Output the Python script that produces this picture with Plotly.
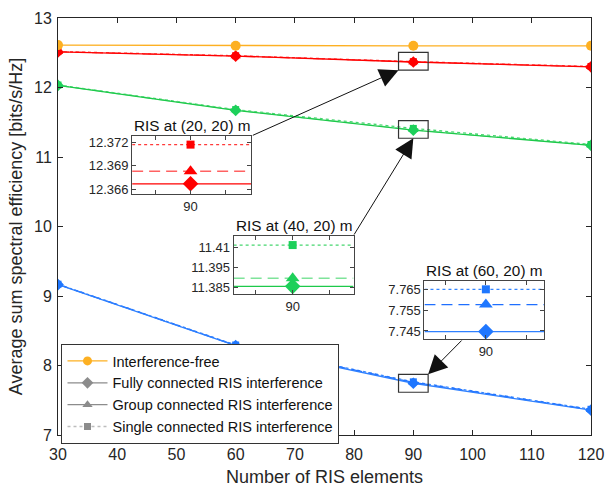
import plotly.graph_objects as go

# ---------------- data ----------------
ris_elements = [30, 60, 90, 120]
interference_free = [12.61, 12.60, 12.60, 12.60]

# RIS at (20, 20) m
fully_20 = [12.512, 12.452, 12.3667, 12.298]
group_20 = [12.514, 12.454, 12.3683, 12.300]
single_20 = [12.517, 12.457, 12.3717, 12.303]
# RIS at (40, 20) m
fully_40 = [12.030, 11.672, 11.3854, 11.168]
group_40 = [12.032, 11.676, 11.3905, 11.172]
single_40 = [12.036, 11.682, 11.4114, 11.180]
# RIS at (60, 20) m
fully_60 = [9.165, 8.285, 7.7447, 7.357]
group_60 = [9.168, 8.290, 7.7577, 7.364]
single_60 = [9.170, 8.295, 7.7650, 7.370]

legend_names = ["Interference-free", "Fully connected RIS interference",
                "Group connected RIS interference", "Single connected RIS interference"]
inset_titles = ["RIS at (20, 20) m", "RIS at (40, 20) m", "RIS at (60, 20) m"]
x_ticks = [30, 40, 50, 60, 70, 80, 90, 100, 110, 120]
y_ticks = [7, 8, 9, 10, 11, 12, 13]
inset_ytickvals = [[12.366, 12.369, 12.372], [11.385, 11.3975, 11.41], [7.745, 7.755, 7.765]]
inset_yticktext = [["12.366", "12.369", "12.372"], ["11.385", "11.395", "11.41"], ["7.745", "7.755", "7.765"]]

# ---------------- styles ----------------
FONT = "Liberation Sans"
TXT = "#262626"
ORANGE = "#FDB022"
groups = [
    (fully_20, group_20, single_20, ["#FF0000", "#FF6262", "#FF3A3A"], "#FF0000"),
    (fully_40, group_40, single_40, ["#1DC94A", "#7FE39A", "#45D66E"], "#1DD05A"),
    (fully_60, group_60, single_60, ["#2F80FF", "#1F6FFF", "#3385FF"], "#1F77FF"),
]
dashes = ["solid", "11px,6px", "3px,3px"]
symbols = ["diamond", "triangle-up", "square"]
msizes = [9, 9, 7]
inset_msizes = [12, 12, 8]

fig = go.Figure()

# main traces
for fully, group, single, lcols, mcol in groups[::-1]:
    for vals, lc, dsh, sym, ms in zip([single, group, fully], lcols[::-1], dashes[::-1], symbols[::-1], msizes[::-1]):
        fig.add_trace(go.Scatter(x=ris_elements, y=vals, mode="lines+markers",
                                 line=dict(color=lc, width=1.3, dash=dsh),
                                 marker=dict(symbol=sym, size=ms, color=mcol),
                                 showlegend=False, xaxis="x", yaxis="y"))
fig.add_trace(go.Scatter(x=ris_elements, y=interference_free, mode="lines+markers",
                         line=dict(color=ORANGE, width=1.3),
                         marker=dict(symbol="circle", size=10, color=ORANGE),
                         showlegend=False))

# legend-only traces
leg_styles = [(ORANGE, "solid", "circle", 9, ORANGE),
              ("#8C8C8C", "solid", "diamond", 9, "#8C8C8C"),
              ("#8C8C8C", "solid", "triangle-up", 9, "#8C8C8C"),
              ("#BDBDBD", "3px,3px", "square", 7, "#8C8C8C")]
for name, (lc, dsh, sym, ms, mc) in zip(legend_names, leg_styles):
    fig.add_trace(go.Scatter(x=[None], y=[None], mode="lines+markers", name=name,
                             line=dict(color=lc, width=1.3, dash=dsh),
                             marker=dict(symbol=sym, size=ms, color=mc)))

# ---------------- insets ----------------
W, H = 606, 487
L, R, T, B = 57.5, 591, 18, 435
def px_x(p): return (p - L) / (R - L)
def px_y(p): return (B - p) / (B - T)

inset_boxes = [(131.7, 250.7, 136, 194), (233.3, 353.3, 236, 294), (424.3, 544, 281, 339.3)]
inset_xr = [[88.33, 91.73], [88.4, 91.65], [88.48, 91.44]]
inset_yr = [[12.3654, 12.3728], [11.3806, 11.4171], [7.741, 7.769]]
idx90 = ris_elements.index(90)

for k, ((fully, group, single, lcols, mcol), box) in enumerate(zip(groups, inset_boxes)):
    xa, ya = f"x{k+2}", f"y{k+2}"
    xr = inset_xr[k]
    for vals, lc, dsh, sym, ms in zip([fully, group, single], lcols, dashes, symbols, inset_msizes):
        v = vals[idx90]
        fig.add_trace(go.Scatter(x=xr, y=[v, v], mode="lines",
                                 line=dict(color=lc, width=1.3, dash=dsh),
                                 showlegend=False, xaxis=xa, yaxis=ya, hoverinfo="skip"))
        fig.add_trace(go.Scatter(x=[ris_elements[idx90]], y=[v], mode="markers",
                                 marker=dict(symbol=sym, size=ms, color=mcol),
                                 showlegend=False, xaxis=xa, yaxis=ya, cliponaxis=False))
    x0, x1, yt, yb = box
    axcommon = dict(showline=True, linecolor="#444", linewidth=1, mirror="ticks",
                    ticks="inside", ticklen=4, tickcolor="#444", automargin=False,
                    tickfont=dict(family=FONT, size=13, color=TXT), zeroline=False, showgrid=False)
    fig.update_layout(**{
        f"xaxis{k+2}": dict(domain=[px_x(x0), px_x(x1)], anchor=ya, range=xr,
                            tickvals=[89, 90, 91], ticktext=["", "90", ""], **axcommon),
        f"yaxis{k+2}": dict(domain=[px_y(yb), px_y(yt)], anchor=xa, range=inset_yr[k],
                            tickvals=inset_ytickvals[k], ticktext=inset_yticktext[k], **axcommon),
    })
    fig.add_annotation(text=inset_titles[k], xref=f"{xa} domain", yref=f"{ya} domain",
                       x=0.5, y=1.0, yanchor="bottom", xanchor="center", showarrow=False,
                       yshift=0, font=dict(family=FONT, size=15.3, color="#111"))

# zoom rectangles and arrows on main axes
rects = [(87.5, 92.5, 12.25, 12.505), (87.5, 92.5, 11.27, 11.522), (87.5, 92.5, 7.615, 7.873)]
for x0, x1, y0, y1 in rects:
    fig.add_shape(type="rect", xref="x", yref="y", x0=x0, x1=x1, y0=y0, y1=y1,
                  line=dict(color="#333", width=1.2))
arrows = [((87.5, 12.25), (62.64, 11.302)),
          ((90.0, 11.27), (79.85, 9.863)),
          ((92.5, 7.873), (98.4, 8.381))]
for (tx, ty), (ax, ay) in arrows:
    fig.add_annotation(x=tx, y=ty, ax=ax, ay=ay, xref="x", yref="y", axref="x", ayref="y",
                       text="", showarrow=True, arrowhead=2, arrowsize=3.8, arrowwidth=1,
                       arrowcolor="#111", standoff=0)

fig.update_layout(
    width=W, height=H,
    margin=dict(l=L, r=W - R, t=T, b=H - B, autoexpand=False),
    paper_bgcolor="white", plot_bgcolor="white",
    font=dict(family=FONT, color=TXT),
    xaxis=dict(domain=[0, 1], range=[30, 120], tickvals=x_ticks, showline=True, linecolor="#262626",
               mirror="ticks", ticks="inside", ticklen=5, tickcolor="#262626", showgrid=False,
               zeroline=False, tickfont=dict(family=FONT, size=16, color=TXT), ticklabelstandoff=5,
               automargin=False,
               title=dict(text="Number of RIS elements", font=dict(family=FONT, size=18, color=TXT),
                          standoff=10)),
    yaxis=dict(domain=[0, 1], range=[7, 13], tickvals=y_ticks, showline=True, linecolor="#262626",
               mirror="ticks", ticks="inside", ticklen=5, tickcolor="#262626", showgrid=False,
               zeroline=False, tickfont=dict(family=FONT, size=16, color=TXT), ticklabelstandoff=2,
               automargin=False,
               title=dict(text="Average sum spectral efficiency [bits/s/Hz]",
                          font=dict(family=FONT, size=18, color=TXT), standoff=6)),
    legend=dict(x=px_x(61), y=px_y(344), xanchor="left", yanchor="top",
                bgcolor="white", bordercolor="#333", borderwidth=1,
                font=dict(family=FONT, size=14.5, color="#111"), tracegroupgap=0, itemwidth=40),
    showlegend=True,
)

fig.write_html("out.html")
